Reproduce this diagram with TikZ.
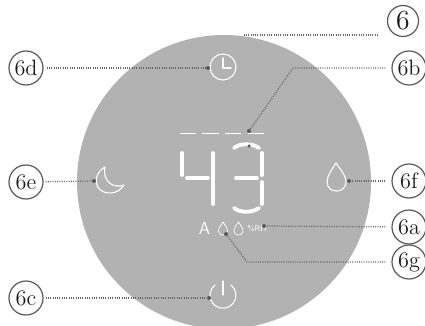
\documentclass[tikz,border=0pt]{standalone}
\usepackage{graphicx}
\newcommand{\calltext}[2][1.85]{\scalebox{#1}{\fontsize{12}{12}\selectfont #2}}
\tikzset{
 callout/.style={circle,draw=black!65,line width=1.2pt,minimum size=34pt,inner sep=0pt,text=black!90},
 leader/.style={draw=black!60,line width=1.2pt,dash pattern=on 1pt off 1.3pt},
 tipdot/.style={circle,fill=black!65,minimum size=4pt,inner sep=0pt},
 icon/.style={draw=white,line width=1.1pt,line cap=round,line join=round},
 seg/.style={draw=white,line width=3.8pt,line cap=round},
 dashseg/.style={draw=white,line width=1pt}
}
\begin{document}
\begin{tikzpicture}[x=1pt,y=-1pt]
\useasboundingbox (0,0) rectangle (425,326);
\clip (0,0) rectangle (425,326);
\fill[fill=black!30] (224,182) circle (147);
% dashes
\foreach \a/\b in {180/196,202/219,225/241,248/264}{\draw[dashseg] (\a,133)--(\b,133);}
% digit 4
\draw[seg] (182,153)--(182,175);
\draw[seg] (187,178)--(208,178);
\draw[seg] (213,153)--(213,204);
% digit 3
\draw[seg] (234,148) .. controls (240,143) and (252,143) .. (259,148);
\draw[seg] (236,178)--(257,178);
\draw[seg] (262,153)--(262,175);
\draw[seg] (262,182)--(262,204);
\draw[seg] (234,208) .. controls (240,213) and (252,213) .. (259,208);
% small row
\node[text=white,inner sep=0pt] (auto) at (204.5,228) {\sffamily\calltext[1.45]{A}};
\draw[draw=white,line width=.7pt] (223,222) .. controls (221,225) and (218.5,228) .. (218.5,231) .. controls (218.5,236.5) and (227.5,236.5) .. (227.5,231) .. controls (227.5,228) and (225,225) .. (223,222) -- cycle;
\draw[draw=white,line width=.7pt] (238.5,222) .. controls (236.5,225) and (234,228) .. (234,231) .. controls (234,236.5) and (243,236.5) .. (243,231) .. controls (243,228) and (240.5,225) .. (238.5,222) -- cycle;
\node[text=white,font=\sffamily\fontsize{8.5}{8.5}\selectfont,inner sep=0pt] (rh) at (257,229) {\%RH};
% icons
\draw[icon] (223,67) circle (13);
\draw[icon] (223,58)--(223,68)--(231,68);
\draw[icon] (105,167) .. controls (92,174) and (93,193) .. (110,193) .. controls (116,193) and (121,190) .. (124,185) .. controls (114,189) and (102,182) .. (105,167) -- cycle;
\draw[icon] (336,163) .. controls (333,168) and (327,175) .. (327,182) .. controls (327,194) and (346,194) .. (346,182) .. controls (346,175) and (339,168) .. (336,163) -- cycle;
\draw[icon] (231,285) arc[start angle=-52,end angle=232,radius=13];
\draw[icon] (223,281)--(223,295);
% callouts
\node[callout] (c6d) at (26,68) {\calltext{6d}};
\node[callout] (c6e) at (26,182) {\calltext{6e}};
\node[callout] (c6c) at (26,298) {\calltext{6c}};
\node[callout,minimum size=31pt] (c6) at (403,21) {\calltext[2.3]{6}};
\node[callout] (c6b) at (409,68) {\calltext{6b}};
\node[callout] (c6f) at (409,181) {\calltext{6f}};
\node[callout] (c6a) at (409,227) {\calltext{6a}};
\node[callout] (c6g) at (409,262) {\calltext{6g}};
% tips
\node[tipdot] (t6d) at (208,68) {};
\node[tipdot] (t6e) at (94,181) {};
\node[tipdot] (t6c) at (209,298) {};
\node[tipdot] (t6f) at (349,181) {};
\node[tipdot] (t6a) at (264,226) {};
\node[tipdot] (t6g) at (226,234) {};
\node[tipdot] (t6b) at (249,131) {};
\node[tipdot,minimum size=3.5pt] (t3) at (249,146) {};
\coordinate (k6b) at (293,68);
\coordinate (k6g) at (247,262);
\coordinate (e6) at (243,35);
\coordinate (s6) at (378,35);
% leaders (a small gap is left beside each callout)
\draw[leader,shorten <=3pt] (c6d) -- (t6d);
\draw[leader,shorten <=2pt] (c6e) -- (t6e);
\draw[leader,shorten <=2pt] (c6c) -- (t6c);
\draw[leader,shorten <=6pt] (c6f) -- (t6f);
\draw[leader,shorten <=6pt] (c6a) -- (t6a);
\draw[leader,shorten <=6pt] (c6g.west) -- (k6g) -- (t6g);
\draw[leader,shorten <=6pt] (c6b.west) -- (k6b) -- (t6b);
\draw[leader] (s6) -- (e6);
\end{tikzpicture}
\end{document}
